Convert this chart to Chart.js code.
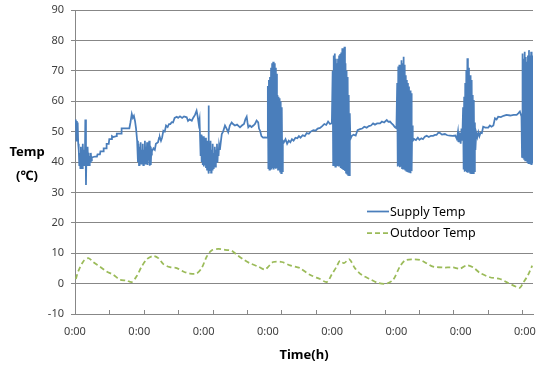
<!DOCTYPE html>
<html lang="en">
    <head>
        <meta charset="UTF-8" />
        <title>Supply / Outdoor Temp</title>
        <script src="https://cdn.jsdelivr.net/npm/chart.js@4.4.1/dist/chart.umd.min.js"></script>
        <style>
            body { margin: 0; background: #fff; }
        </style>
    </head>

    <body>
        <canvas id="myChart" width="536" height="365"></canvas>
    </body>

    <script>
        // hours from the first 0:00, temperature in ℃
        const supplyTemp = [
            [0.1, 52], [0.3, 54], [0.5, 47], [0.7, 53.5], [0.9, 48.5], [1.0, 53], [1.2, 46], [1.4, 44], [1.6, 39], [1.8, 43],
            [2.0, 38], [2.2, 45], [2.4, 39], [2.5, 42], [2.7, 38], [2.9, 46], [3.1, 40], [3.3, 44], [3.5, 39], [3.7, 41],
            [3.85, 54], [4.1, 32.4], [4.3, 44], [4.5, 39], [4.7, 45], [4.9, 40], [5.1, 43], [5.3, 39], [5.5, 42], [5.7, 40],
            [5.9, 43], [6.1, 40.5], [6.3, 41.5],
            [7.5, 41.8], [8.2, 41.8], [8.4, 42.5], [9.3, 42.5], [9.5, 43.5], [10.5, 43.5], [10.7, 44.5], [11.6, 44.5], [11.8, 46],
            [12.6, 46], [12.8, 47.5], [13.6, 47.5], [13.8, 48.5], [14.3, 48.2], [15.4, 48.5], [15.6, 49.3], [17.2, 49.3], [17.4, 51.1],
            [20.3, 51.1], [20.7, 53], [21.2, 55.8], [21.6, 54.5], [22.0, 55.2], [22.4, 53.5], [22.8, 51], [23.2, 47],
            [23.5, 40], [23.7, 46], [23.9, 39], [24.1, 45], [24.3, 41], [24.5, 46.5], [24.7, 39.5], [24.9, 44], [25.1, 40], [25.3, 46],
            [25.5, 39], [25.7, 44], [25.9, 41], [26.1, 47], [26.3, 39.5], [26.5, 45], [26.7, 40], [26.9, 46.5], [27.1, 39], [27.3, 44],
            [27.5, 40.5], [27.7, 47], [27.9, 38.8], [28.1, 45], [28.3, 39], [28.5, 44], [28.7, 43.5],
            [29.3, 44.5], [29.8, 44], [30.2, 46], [30.5, 46.2], [31.0, 46.5], [31.4, 48], [31.7, 48.1], [32.1, 47], [32.5, 48], [33.0, 50.3],
            [33.5, 50], [34.0, 52], [34.6, 51.5], [35.1, 52.5], [35.6, 52.5], [36.1, 53.1], [36.6, 53], [37.2, 54.5], [38.0, 54.9], [38.5, 54.5],
            [39.2, 55], [40.0, 54.5], [40.7, 55], [41.7, 54.7], [42.2, 53.5], [42.8, 54], [43.6, 53.6], [44.1, 54.5], [44.8, 55.5], [45.4, 56.9],
            [45.8, 55], [46.2, 52.5], [46.5, 54],
            [46.7, 48], [46.9, 42], [47.1, 49], [47.3, 40], [47.5, 47], [47.7, 39], [47.9, 48.5], [48.1, 38.5], [48.3, 46], [48.5, 39],
            [48.7, 48], [48.9, 38], [49.1, 45], [49.3, 37.5], [49.5, 47], [49.7, 38], [49.85, 58.6], [50.0, 36.2], [50.2, 45], [50.4, 37],
            [50.6, 47], [50.8, 36.5], [51.0, 44], [51.2, 37.5], [51.4, 46], [51.6, 38], [51.8, 43], [52.0, 39], [52.2, 45], [52.4, 38.5],
            [52.6, 44], [52.8, 40], [53.0, 46], [53.2, 40], [53.4, 44], [53.6, 42], [53.8, 45.6], [54.1, 44], [54.5, 47], [54.8, 49.2],
            [55.3, 50], [56.0, 52], [56.6, 51], [57.2, 49.8], [57.8, 52], [58.5, 53], [59.0, 52.5], [59.7, 52], [60.5, 52.3], [61.6, 51.4],
            [62.3, 52], [63.1, 52.5], [63.6, 54], [64.1, 54.9], [64.4, 53], [64.7, 51.4], [65.3, 52], [65.9, 51.5], [66.6, 52], [67.2, 52.5],
            [67.8, 53.6], [68.4, 53], [68.7, 51], [69.1, 50.3], [69.6, 48.5], [70.2, 48], [70.9, 48.1], [71.7, 48],
            [72.0, 65], [72.2, 38], [72.4, 67], [72.6, 37.5], [72.8, 68], [73.0, 37.8], [73.2, 71], [73.4, 37.5], [73.6, 72.5], [73.8, 38],
            [74.0, 73], [74.2, 37.5], [74.4, 72.5], [74.6, 38], [74.8, 71], [75.0, 37.8], [75.2, 69], [75.4, 38], [75.6, 62], [75.8, 37.5],
            [76.0, 61.5], [76.2, 38], [76.4, 61], [76.6, 36.8], [76.8, 60], [77.0, 36.3], [77.2, 58], [77.4, 37], [77.6, 47],
            [78.0, 46.5], [78.6, 47.5], [79.2, 46], [79.8, 47], [80.4, 46.5], [81.0, 47.5], [81.6, 47], [82.3, 48], [83.0, 47.8], [83.6, 48.5],
            [84.2, 48], [85.0, 48.8], [85.8, 48.5], [86.5, 49.5], [87.3, 49.3], [88.0, 50], [89.0, 50.5], [89.8, 50.3], [90.6, 51], [91.5, 51.2],
            [92.3, 51.8], [93.1, 52.5], [93.8, 52.2], [94.5, 53.3], [95.2, 52.5], [95.9, 52.8],
            [96.2, 70], [96.4, 39], [96.6, 75], [96.8, 39.5], [97.0, 75.7], [97.2, 38.5], [97.4, 74], [97.6, 39], [97.8, 72.5], [98.0, 38.8],
            [98.2, 74], [98.4, 38.5], [98.6, 75], [98.8, 38.5], [99.0, 75.5], [99.2, 38], [99.4, 76], [99.6, 37.8], [99.8, 77.4], [100.0, 37.5],
            [100.2, 77], [100.4, 37.4], [100.6, 77.9], [100.8, 37], [101.0, 72.5], [101.2, 36.5], [101.4, 70], [101.6, 36.2], [101.8, 68], [102.0, 35.8],
            [102.2, 62], [102.4, 35.7], [102.6, 56], [102.8, 47.5],
            [103.3, 48.5], [104.0, 49], [104.8, 48.7], [105.5, 50.5], [106.4, 50.8], [107.2, 51], [108.0, 51.6], [108.9, 51.3], [109.7, 51.8], [110.5, 52],
            [111.3, 52.7], [112.0, 52.3], [112.8, 52.7], [113.9, 52.7], [114.6, 53.3], [115.4, 53], [116.4, 53.8], [117.0, 53.2], [117.6, 53.3], [118.2, 52.7],
            [118.8, 52.2], [119.4, 51.5], [120.0, 51.1],
            [120.3, 66], [120.5, 38.5], [120.7, 71.4], [120.9, 38.8], [121.1, 72], [121.3, 38.3], [121.5, 71], [121.7, 38.5], [121.9, 73.5], [122.1, 38],
            [122.3, 72.5], [122.5, 37.8], [122.7, 74.6], [122.9, 38], [123.1, 72], [123.3, 37.5], [123.5, 68.5], [123.7, 37.2], [123.9, 67], [124.1, 37],
            [124.3, 66], [124.5, 36.8], [124.7, 64.8], [124.9, 36.5], [125.1, 63.5], [125.3, 36.3], [125.5, 62.6], [125.7, 37], [125.9, 52], [126.1, 47],
            [126.6, 47.6], [127.3, 47.2], [128.0, 48], [128.6, 47.3], [129.3, 47.8], [129.9, 47.5], [130.6, 48.3], [131.3, 48.6], [132.1, 48.2], [132.9, 48.6],
            [133.7, 48.6], [134.4, 48.9], [135.0, 48.9], [135.6, 49.6], [136.2, 49.6], [137.0, 49], [138.1, 49.2], [139.0, 48.8], [140.0, 48.7], [141.0, 48.6],
            [142.0, 48.7], [142.6, 47.5], [143.0, 50], [143.3, 46.5], [143.6, 49.5], [144.0, 46], [144.3, 51], [144.6, 47],
            [144.9, 58], [145.1, 37.5], [145.3, 61.5], [145.5, 36.8], [145.7, 66], [145.9, 37], [146.1, 70.3], [146.3, 36.6], [146.5, 74.1], [146.7, 36.5],
            [146.9, 71], [147.1, 36.8], [147.3, 67], [147.5, 36.5], [147.7, 68.5], [147.9, 36.3], [148.1, 67], [148.3, 36.5], [148.5, 62], [148.7, 36.3],
            [148.9, 60.4], [149.1, 37], [149.3, 53], [149.5, 44],
            [149.8, 49.6], [150.2, 48.2], [150.6, 49.8], [151.0, 48.5], [151.4, 49.6], [151.9, 49.5], [152.4, 51.6], [153.2, 51.3], [154.3, 51.3], [154.9, 52],
            [155.5, 51.6], [156.2, 52], [156.8, 54.4], [157.4, 54], [158.0, 54.9], [159.0, 54.8], [160.0, 55.2], [161.1, 55.5], [162.5, 55.3], [163.8, 55.5],
            [164.9, 55.5], [165.5, 56], [166.1, 56.6],
            [166.7, 55], [166.9, 41.7], [167.1, 75.7], [167.3, 41.5], [167.5, 74], [167.7, 41], [167.9, 76.3], [168.1, 40.5], [168.3, 74.5], [168.5, 40.5],
            [168.7, 73], [168.9, 40], [169.1, 75], [169.3, 39.6], [169.5, 76.8], [169.7, 39.5], [169.9, 75], [170.1, 39.2], [170.3, 76.3], [170.5, 39],
            [170.7, 75], [170.9, 39.5]
        ];

        const outdoorTemp = [
            [0.3, 1.5], [1.2, 4], [3.1, 7.3], [5.0, 8.4], [6.8, 7.1], [9.3, 5.6], [11.8, 4], [14.3, 2.9], [16.8, 1.3], [19.3, 1],
            [21.2, 0.5], [23.0, 2.4], [24.9, 5.6], [26.8, 8], [29.2, 9.1], [31.1, 8.4], [33.0, 6.4], [35.5, 5.4], [38.0, 5.1], [40.4, 4],
            [42.9, 3.3], [45.4, 3.3], [47.3, 5.1], [49.2, 8.9], [51.0, 10.9], [53.5, 11.4], [56.0, 11.1], [58.5, 10.8], [60.4, 9.5], [62.8, 8],
            [65.3, 6.7], [68.4, 5.6], [70.9, 4.6], [72.2, 5.6], [74.0, 7.1], [77.2, 7.1], [80.3, 6], [82.8, 5.4], [84.0, 5.1], [87.7, 2.9],
            [91.5, 1.5], [94.0, 0.5], [95.8, 2.9], [97.7, 5.6], [98.9, 7.5], [100.4, 6.7], [102.4, 8], [104.5, 5.1], [107.0, 2.9], [110.1, 1.5],
            [113.2, 0.2], [116.3, 0], [118.8, 1.3], [121.3, 5.6], [123.2, 7.6], [125.7, 8], [128.8, 7.8], [131.3, 6.7], [133.7, 5.6], [137.5, 5.3],
            [141.2, 5.3], [143.7, 4.9], [146.2, 6], [148.7, 5.3], [151.2, 3.5], [154.9, 2.1], [158.7, 1.5], [161.7, 0.2], [164.9, -1.1], [166.1, -1.4],
            [167.3, 0.2], [169.2, 2.9], [170.7, 5.9]
        ];

        const dayTicks = [0, 24, 48, 72, 96, 120, 144, 168];
        const markTicks = [12.84, 25.68, 38.52, 51.36, 64.2, 77.04, 89.88, 102.72, 115.56, 128.4, 141.24, 154.08, 166.92];
        const dayLabel = "0:00";

        const FONT = '"Noto Sans", "DejaVu Sans", sans-serif';
        const GRID = "#878787";

        // y title, inward tick marks on the time axis and the legend
        const overlay = {
            id: "overlay",
            afterDraw(chart) {
                const ctx = chart.ctx;
                const xs = chart.scales.x;
                ctx.save();

                ctx.strokeStyle = GRID;
                ctx.lineWidth = 1;
                markTicks.forEach((v) => {
                    const px = Math.round(xs.getPixelForValue(v)) + 0.5;
                    ctx.beginPath();
                    ctx.moveTo(px, xs.top);
                    ctx.lineTo(px, xs.top - 4);
                    ctx.stroke();
                });

                ctx.fillStyle = "#000";
                ctx.font = "bold 13px " + FONT;
                ctx.textAlign = "center";
                ctx.textBaseline = "middle";
                ctx.fillText("Temp", 27, 152);
                ctx.fillText("(℃)", 27, 176);

                ctx.font = "12.5px " + FONT;
                ctx.textAlign = "left";
                chart.data.datasets.forEach((ds, i) => {
                    const y = 211.5 + i * 21.5;
                    ctx.strokeStyle = ds.borderColor;
                    ctx.lineWidth = ds.borderWidth;
                    ctx.setLineDash(ds.borderDash || []);
                    ctx.beginPath();
                    ctx.moveTo(367, y);
                    ctx.lineTo(389, y);
                    ctx.stroke();
                    ctx.setLineDash([]);
                    ctx.fillText(ds.label, 390, y + 0.5);
                });
                ctx.restore();
            },
        };

        const chart = new Chart("myChart", {
            type: "line",
            data: {
                datasets: [
                    {
                        label: "Supply Temp",
                        data: supplyTemp.map((p) => ({ x: p[0], y: p[1] })),
                        borderColor: "#4A7EBB",
                        borderWidth: 1.75,
                        pointRadius: 0,
                        tension: 0,
                    },
                    {
                        label: "Outdoor Temp",
                        data: outdoorTemp.map((p) => ({ x: p[0], y: p[1] })),
                        borderColor: "#9BBB59",
                        borderWidth: 1.75,
                        borderDash: [5, 3],
                        pointRadius: 0,
                        tension: 0.3,
                    },
                ],
            },
            options: {
                responsive: false,
                devicePixelRatio: 1,
                animation: false,
                layout: { padding: { top: 10, right: 3, left: 0, bottom: 0 } },
                plugins: {
                    legend: { display: false },
                    tooltip: { enabled: false },
                },
                scales: {
                    x: {
                        type: "linear",
                        min: 0,
                        max: 171,
                        afterBuildTicks: (scale) => {
                            scale.ticks = dayTicks.map((v) => ({ value: v }));
                        },
                        afterFit: (scale) => {
                            scale.height = 51;
                            scale.paddingLeft = 0;
                            scale.paddingRight = 0;
                        },
                        ticks: {
                            autoSkip: false,
                            maxRotation: 0,
                            padding: 11,
                            color: "#404040",
                            font: { family: FONT, size: 11 },
                            callback: () => dayLabel,
                        },
                        grid: { drawOnChartArea: false, drawTicks: false },
                        border: { color: GRID },
                        title: {
                            display: true,
                            text: "Time(h)",
                            color: "#000",
                            font: { family: FONT, size: 13, weight: "bold" },
                            padding: { top: 0, bottom: 2 },
                        },
                    },
                    y: {
                        min: -10,
                        max: 90,
                        afterFit: (scale) => {
                            scale.width = 75;
                            scale.paddingTop = 0;
                            scale.paddingBottom = 0;
                        },
                        ticks: {
                            stepSize: 10,
                            padding: 7,
                            color: "#404040",
                            font: { family: FONT, size: 11 },
                        },
                        grid: { color: GRID, tickLength: 4 },
                        border: { color: GRID },
                    },
                },
            },
            plugins: [overlay],
        });
    </script>
</html>
